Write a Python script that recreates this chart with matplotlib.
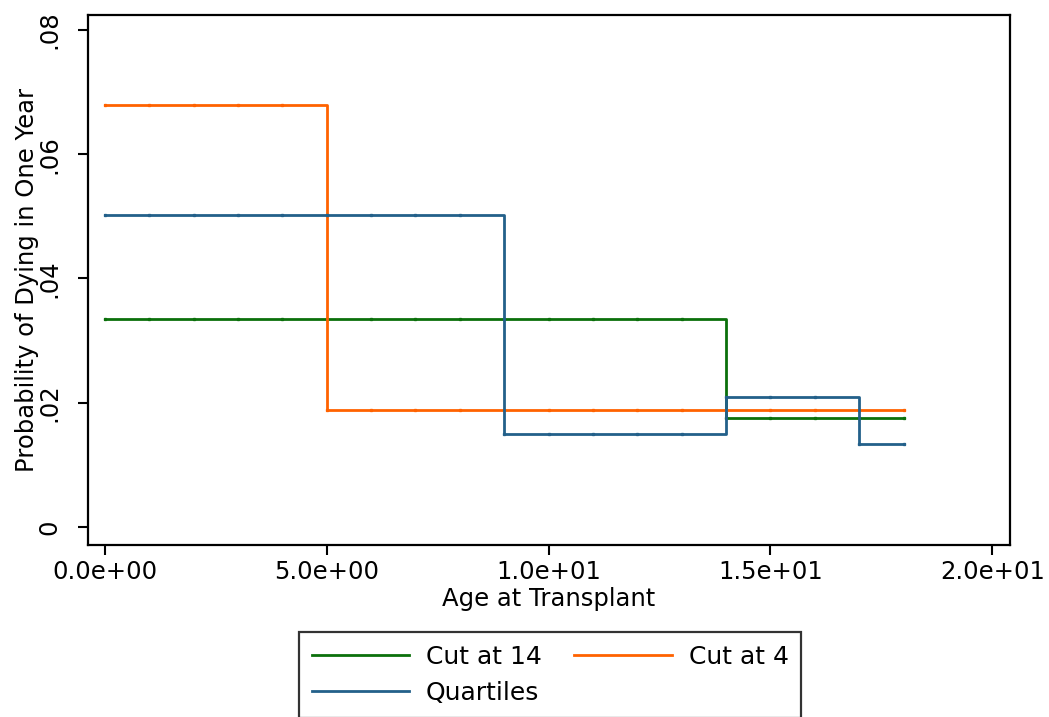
import numpy as np
import matplotlib
matplotlib.use("Agg")
import matplotlib.pyplot as plt

# age at transplant (integer ages 0..18)
age = np.arange(0, 19)

# probability of dying in one year
cut14 = [0.0335] * 14 + [0.0176] * 5
cut4 = [0.0679] * 5 + [0.0188] * 14
quartiles = [0.0502] * 9 + [0.0150] * 5 + [0.0209] * 3 + [0.0134] * 2

series_names = ["Cut at 14", "Cut at 4", "Quartiles"]
series_colors = ["#0b700b", "#ff6200", "#23608a"]

xticks = [0, 5, 10, 15, 20]
xticklabels = ["0.0e+00", "5.0e+00", "1.0e+01", "1.5e+01", "2.0e+01"]
yticks = [0, 0.02, 0.04, 0.06, 0.08]
yticklabels = ["0", ".02", ".04", ".06", ".08"]

plt.rcParams["font.family"] = ["DejaVu Sans"]
fs = 17.5

fig = plt.figure(figsize=(10.49, 7.17), dpi=100)
ax = fig.add_axes([88 / 1049, 1 - 545 / 717, (1010 - 88) / 1049, (545 - 15) / 717])

handles = []
for vals, name, col in zip([cut14, cut4, quartiles], series_names, series_colors):
    h, = ax.step(age, vals, where="post", color=col, lw=2, label=name)
    ax.plot(age, vals, ls="none", marker="s", ms=1.4, color=col)
    handles.append(h)

ax.set_xlim(-0.38, 20.4)
ax.set_ylim(-0.0029, 0.0824)
ax.set_xticks(xticks)
ax.set_xticklabels(xticklabels)
ax.set_yticks(yticks)
ax.set_yticklabels(yticklabels, rotation=90, va="center")
ax.tick_params(direction="out", length=7, width=1.5, labelsize=fs, pad=4)
ax.tick_params(axis="y", pad=12)
for sp in ax.spines.values():
    sp.set_linewidth(1.6)

ax.set_xlabel("Age at Transplant", fontsize=fs, labelpad=2)
ax.set_ylabel("Probability of Dying in One Year", fontsize=fs, labelpad=-1)

# legend fills rows in the reference: reorder for matplotlib's column filling
order = [0, 2, 1]
leg = fig.legend([handles[i] for i in order], [series_names[i] for i in order],
                 ncol=2, loc="upper left",
                 bbox_to_anchor=(299 / 1049, 1 - 632 / 717),
                 fontsize=18, frameon=True, fancybox=False,
                 handlelength=3.9, handletextpad=0.68, columnspacing=1.3,
                 borderpad=0.5, labelspacing=0.5, borderaxespad=0)
leg.get_frame().set_edgecolor("black")
leg.get_frame().set_linewidth(1.6)
for ln in leg.get_lines():
    ln.set_linewidth(2)

fig.savefig("out.png", dpi=100)
